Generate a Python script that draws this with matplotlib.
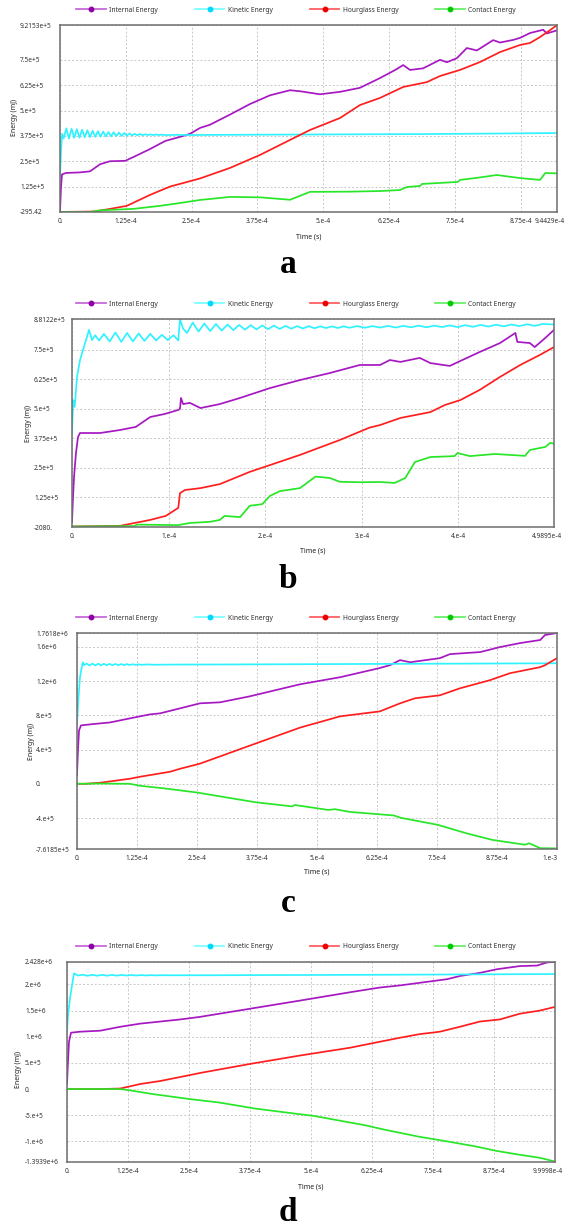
import numpy as np
import matplotlib
matplotlib.use('Agg')
import matplotlib.pyplot as plt
import matplotlib.transforms as mtransforms
from matplotlib.lines import Line2D

plt.rcParams['font.family'] = ['Noto Sans', 'DejaVu Sans']

# legend names and colours
series_names = ['Internal Energy', 'Kinetic Energy', 'Hourglass Energy', 'Contact Energy']
line_colors = ['#A618C2', '#30F2FF', '#FF1E1E', '#28E628']
legend_line_colors = ['#C868D8', '#78FFFF', '#FF6060', '#68F068']
legend_marker_colors = ['#9000A8', '#00D8FF', '#EE0000', '#00CC00']

# ---------------- panel a : (time s, energy mJ) ----------------
a_internal = [(0, 0), (1.9e-6, 120e3), (3.8e-6, 185e3), (1.1e-5, 192e3), (3.8e-5, 195e3),
              (5.7e-5, 200e3), (7.6e-5, 235e3), (9.5e-5, 250e3), (1.24e-4, 252e3), (1.43e-4, 275e3),
              (1.71e-4, 310e3), (2.0e-4, 350e3), (2.28e-4, 370e3), (2.47e-4, 385e3), (2.66e-4, 414e3),
              (2.85e-4, 430e3), (3.23e-4, 480e3), (3.61e-4, 532e3), (3.99e-4, 575e3), (4.37e-4, 600e3),
              (4.56e-4, 595e3), (4.94e-4, 580e3), (5.32e-4, 592e3), (5.7e-4, 612e3), (6.08e-4, 660e3),
              (6.37e-4, 700e3), (6.52e-4, 724e3), (6.65e-4, 700e3), (6.9e-4, 708e3), (7.22e-4, 750e3),
              (7.35e-4, 738e3), (7.54e-4, 758e3), (7.73e-4, 808e3), (7.92e-4, 796e3), (8.23e-4, 847e3),
              (8.36e-4, 835e3), (8.61e-4, 848e3), (8.74e-4, 858e3), (8.93e-4, 882e3), (9.18e-4, 898e3),
              (9.25e-4, 880e3), (9.4429e-4, 895e3)]
a_kinetic = [(0, 172e3), (2e-6, 300e3), (4e-6, 385e3), (7e-6, 362e3), (1.2e-5, 412e3),
             (1.7e-5, 362e3), (2.2e-5, 410e3), (2.7e-5, 365e3), (3.2e-5, 408e3), (3.7e-5, 366e3),
             (4.2e-5, 405e3), (4.7e-5, 368e3), (5.2e-5, 403e3), (5.7e-5, 369e3), (6.2e-5, 400e3),
             (6.7e-5, 370e3), (7.2e-5, 398e3), (7.7e-5, 371e3), (8.2e-5, 396e3), (8.7e-5, 372e3),
             (9.2e-5, 394e3), (9.7e-5, 373e3), (1.02e-4, 393e3), (1.07e-4, 374e3), (1.12e-4, 391e3),
             (1.17e-4, 375e3), (1.22e-4, 389e3), (1.27e-4, 376e3), (1.32e-4, 387e3), (1.37e-4, 377e3),
             (1.42e-4, 385e3), (1.47e-4, 378e3), (1.52e-4, 384e3), (1.57e-4, 378e3), (1.62e-4, 383e3),
             (1.67e-4, 379e3), (1.72e-4, 382e3), (1.77e-4, 379e3), (1.82e-4, 382e3), (1.87e-4, 379e3),
             (1.92e-4, 381e3), (2.0e-4, 379e3), (2.2e-4, 380e3), (2.5e-4, 379e3), (3.0e-4, 380e3),
             (4.0e-4, 381e3), (5.0e-4, 382e3), (6.0e-4, 383e3), (7.0e-4, 384e3), (8.0e-4, 386e3),
             (9.0e-4, 388e3), (9.4429e-4, 389e3)]
a_hourglass = [(0, 0), (6.5e-5, 2e3), (9.5e-5, 15e3), (1.27e-4, 30e3), (1.71e-4, 84e3),
               (2.09e-4, 125e3), (2.66e-4, 165e3), (3.23e-4, 217e3), (3.8e-4, 281e3), (4.37e-4, 355e3),
               (4.75e-4, 404e3), (5.32e-4, 463e3), (5.7e-4, 527e3), (6.08e-4, 562e3), (6.52e-4, 616e3),
               (6.97e-4, 640e3), (7.22e-4, 670e3), (7.6e-4, 700e3), (7.98e-4, 739e3), (8.36e-4, 788e3),
               (8.74e-4, 823e3), (8.93e-4, 833e3), (9.12e-4, 862e3), (9.31e-4, 896e3), (9.4429e-4, 921e3)]
a_contact = [(0, 0), (5.7e-5, 0), (7.6e-5, 8e3), (1.39e-4, 15e3), (1.9e-4, 30e3),
             (2.28e-4, 44e3), (2.66e-4, 59e3), (3.23e-4, 74e3), (3.8e-4, 72e3), (4.37e-4, 60e3),
             (4.75e-4, 99e3), (5.51e-4, 100e3), (6.08e-4, 103e3), (6.46e-4, 108e3), (6.59e-4, 123e3),
             (6.84e-4, 128e3), (6.88e-4, 138e3), (7.22e-4, 143e3), (7.56e-4, 148e3), (7.6e-4, 158e3),
             (7.89e-4, 167e3), (8.3e-4, 182e3), (8.74e-4, 167e3), (9.12e-4, 158e3), (9.22e-4, 192e3),
             (9.4429e-4, 190e3)]

# ---------------- panel b ----------------
b_internal = [(0, 20e3), (1.0e-6, 120e3), (2.1e-6, 210e3), (4.1e-6, 312e3), (6.2e-6, 380e3),
              (8.3e-6, 397e3), (2.9e-5, 397e3), (5.0e-5, 410e3), (6.6e-5, 423e3), (8.1e-5, 465e3),
              (9.6e-5, 478e3), (1.10e-4, 495e3), (1.118e-4, 500e3), (1.128e-4, 546e3), (1.15e-4, 520e3),
              (1.22e-4, 525e3), (1.33e-4, 503e3), (1.53e-4, 520e3), (1.74e-4, 546e3), (2.05e-4, 588e3),
              (2.36e-4, 622e3), (2.67e-4, 652e3), (2.98e-4, 686e3), (3.19e-4, 686e3), (3.29e-4, 707e3),
              (3.40e-4, 699e3), (3.60e-4, 716e3), (3.71e-4, 694e3), (3.91e-4, 682e3), (4.02e-4, 703e3),
              (4.22e-4, 741e3), (4.43e-4, 779e3), (4.59e-4, 822e3), (4.61e-4, 784e3), (4.74e-4, 779e3),
              (4.79e-4, 762e3), (4.90e-4, 801e3), (4.9895e-4, 835e3)]
b_kinetic = [(0, 393e3), (0.5e-6, 450e3), (1.3e-6, 537e3), (2.8e-6, 508e3), (5.2e-6, 635e3),
             (8.3e-6, 707e3), (1.14e-5, 750e3), (1.55e-5, 805e3), (1.76e-5, 835e3), (2.07e-5, 792e3),
             (2.4e-5, 812e3), (2.8e-5, 790e3), (3.3e-5, 818e3), (3.9e-5, 786e3), (4.5e-5, 824e3),
             (5.1e-5, 784e3), (5.7e-5, 822e3), (6.3e-5, 786e3), (6.9e-5, 820e3), (7.5e-5, 788e3),
             (8.1e-5, 818e3), (8.7e-5, 790e3), (9.3e-5, 814e3), (9.9e-5, 792e3), (1.05e-4, 812e3),
             (1.1e-4, 790e3), (1.118e-4, 881e3), (1.15e-4, 840e3), (1.19e-4, 822e3), (1.25e-4, 866e3),
             (1.31e-4, 828e3), (1.37e-4, 862e3), (1.43e-4, 830e3), (1.49e-4, 860e3), (1.55e-4, 832e3),
             (1.61e-4, 858e3), (1.67e-4, 834e3), (1.73e-4, 856e3), (1.79e-4, 836e3), (1.85e-4, 855e3),
             (1.91e-4, 837e3), (1.97e-4, 854e3), (2.03e-4, 838e3), (2.09e-4, 853e3), (2.15e-4, 839e3),
             (2.21e-4, 852e3), (2.27e-4, 840e3), (2.33e-4, 851e3), (2.39e-4, 841e3), (2.45e-4, 851e3),
             (2.51e-4, 842e3), (2.57e-4, 850e3), (2.63e-4, 843e3), (2.69e-4, 850e3), (2.75e-4, 843e3),
             (2.81e-4, 850e3), (2.87e-4, 844e3), (2.95e-4, 851e3), (3.03e-4, 844e3), (3.11e-4, 851e3),
             (3.19e-4, 845e3), (3.27e-4, 852e3), (3.35e-4, 845e3), (3.43e-4, 852e3), (3.51e-4, 846e3),
             (3.59e-4, 853e3), (3.67e-4, 846e3), (3.75e-4, 853e3), (3.83e-4, 847e3), (3.91e-4, 854e3),
             (3.99e-4, 847e3), (4.07e-4, 855e3), (4.15e-4, 848e3), (4.23e-4, 856e3), (4.31e-4, 849e3),
             (4.39e-4, 857e3), (4.47e-4, 850e3), (4.55e-4, 858e3), (4.63e-4, 851e3), (4.71e-4, 859e3),
             (4.79e-4, 852e3), (4.87e-4, 860e3), (4.9895e-4, 858e3)]
b_hourglass = [(0, 0), (5.0e-5, 3e3), (8.1e-5, 28e3), (9.7e-5, 45e3), (1.10e-4, 79e3),
               (1.118e-4, 142e3), (1.17e-4, 155e3), (1.33e-4, 163e3), (1.53e-4, 180e3), (1.84e-4, 232e3),
               (2.36e-4, 304e3), (2.77e-4, 367e3), (3.08e-4, 420e3), (3.19e-4, 431e3), (3.40e-4, 461e3),
               (3.71e-4, 486e3), (3.86e-4, 516e3), (4.02e-4, 537e3), (4.22e-4, 580e3), (4.43e-4, 635e3),
               (4.64e-4, 686e3), (4.84e-4, 728e3), (4.9895e-4, 762e3)]
b_contact = [(0, 0), (6.5e-5, 2e3), (6.7e-5, 8e3), (1.10e-4, 6e3), (1.22e-4, 15e3),
             (1.43e-4, 20e3), (1.53e-4, 28e3), (1.58e-4, 45e3), (1.74e-4, 40e3), (1.84e-4, 88e3),
             (1.97e-4, 95e3), (2.05e-4, 130e3), (2.15e-4, 150e3), (2.36e-4, 163e3), (2.52e-4, 212e3),
             (2.67e-4, 206e3), (2.77e-4, 190e3), (2.98e-4, 188e3), (3.19e-4, 189e3), (3.34e-4, 185e3),
             (3.45e-4, 206e3), (3.55e-4, 274e3), (3.71e-4, 295e3), (3.96e-4, 299e3), (3.99e-4, 312e3),
             (4.12e-4, 299e3), (4.38e-4, 308e3), (4.69e-4, 300e3), (4.74e-4, 325e3), (4.90e-4, 338e3),
             (4.95e-4, 355e3), (4.9895e-4, 352e3)]

# ---------------- panel c ----------------
c_internal = [(0, 100e3), (2e-6, 388e3), (4.2e-6, 623e3), (8.3e-6, 682e3), (2.7e-5, 694e3),
              (6.9e-5, 717e3), (9.0e-5, 741e3), (1.1e-4, 764e3), (1.31e-4, 788e3), (1.52e-4, 811e3),
              (1.73e-4, 823e3), (2.15e-4, 882e3), (2.56e-4, 940e3), (2.98e-4, 952e3), (3.6e-4, 1.022e6),
              (4.65e-4, 1.163e6), (5.48e-4, 1.245e6), (6.29e-4, 1.35e6), (6.52e-4, 1.386e6),
              (6.73e-4, 1.445e6), (6.94e-4, 1.42e6), (7.56e-4, 1.468e6), (7.77e-4, 1.515e6),
              (8.4e-4, 1.539e6), (8.81e-4, 1.597e6), (9.23e-4, 1.644e6), (9.65e-4, 1.68e6),
              (9.75e-4, 1.738e6), (1e-3, 1.762e6)]
c_kinetic = [(0, 705e3), (2e-6, 900e3), (4.2e-6, 1.093e6), (6.2e-6, 1.245e6), (1.04e-5, 1.38e6),
             (1.25e-5, 1.42e6), (1.46e-5, 1.386e6), (2.0e-5, 1.405e6), (2.6e-5, 1.382e6), (3.2e-5, 1.404e6),
             (3.8e-5, 1.383e6), (4.4e-5, 1.403e6), (5.0e-5, 1.384e6), (5.6e-5, 1.402e6), (6.2e-5, 1.385e6),
             (6.8e-5, 1.401e6), (7.4e-5, 1.386e6), (8.0e-5, 1.400e6), (8.6e-5, 1.386e6), (9.2e-5, 1.399e6),
             (9.8e-5, 1.387e6), (1.04e-4, 1.398e6), (1.10e-4, 1.388e6), (1.16e-4, 1.397e6),
             (1.22e-4, 1.389e6), (1.28e-4, 1.396e6), (1.34e-4, 1.390e6), (1.45e-4, 1.394e6),
             (1.6e-4, 1.391e6), (2.0e-4, 1.393e6), (3.0e-4, 1.394e6), (4.0e-4, 1.396e6),
             (5.0e-4, 1.398e6), (6.0e-4, 1.400e6), (7.0e-4, 1.402e6), (8.0e-4, 1.404e6),
             (9.0e-4, 1.406e6), (1e-3, 1.408e6)]
c_hourglass = [(0, 0), (1.7e-5, 0), (4.8e-5, 12e3), (1.1e-4, 59e3), (1.31e-4, 82e3),
               (1.94e-4, 141e3), (2.15e-4, 176e3), (2.56e-4, 235e3), (3.6e-4, 446e3), (4.65e-4, 657e3),
               (5.48e-4, 788e3), (6.31e-4, 846e3), (6.73e-4, 940e3), (7.04e-4, 999e3), (7.56e-4, 1.034e6),
               (7.98e-4, 1.116e6), (8.6e-4, 1.21e6), (9.02e-4, 1.292e6), (9.65e-4, 1.363e6),
               (9.75e-4, 1.386e6), (1e-3, 1.468e6)]
c_contact = [(0, 0), (4.8e-5, 3e3), (1.1e-4, 0), (1.31e-4, -23e3), (1.81e-4, -53e3),
             (2.5e-4, -102e3), (3.71e-4, -215e3), (4.48e-4, -264e3), (4.54e-4, -248e3), (5.23e-4, -305e3),
             (5.38e-4, -297e3), (5.69e-4, -329e3), (6.6e-4, -370e3), (6.75e-4, -398e3), (7.52e-4, -480e3),
             (8.13e-4, -581e3), (8.65e-4, -655e3), (9.33e-4, -712e3), (9.42e-4, -695e3), (9.65e-4, -752e3),
             (1e-3, -755e3)]

# ---------------- panel d ----------------
d_internal = [(0, 96e3), (2e-6, 519e3), (4.1e-6, 904e3), (8.2e-6, 1.077e6), (2.66e-5, 1.096e6),
              (6.8e-5, 1.115e6), (1.09e-4, 1.19e6), (1.5e-4, 1.25e6), (1.91e-4, 1.29e6), (2.32e-4, 1.33e6),
              (2.73e-4, 1.38e6), (3.75e-4, 1.535e6), (4.77e-4, 1.69e6), (5.8e-4, 1.85e6), (6.41e-4, 1.94e6),
              (6.82e-4, 1.98e6), (7.79e-4, 2.1e6), (8.05e-4, 2.16e6), (8.46e-4, 2.22e6), (8.81e-4, 2.29e6),
              (9.28e-4, 2.35e6), (9.63e-4, 2.36e6), (9.84e-4, 2.42e6), (9.9998e-4, 2.43e6)]
d_kinetic = [(0, 1.096e6), (2e-6, 1.40e6), (6.1e-6, 1.73e6), (1.02e-5, 1.98e6), (1.43e-5, 2.21e6),
             (1.64e-5, 2.20e6), (2.25e-5, 2.17e6), (3.2e-5, 2.185e6), (4.2e-5, 2.165e6), (5.2e-5, 2.183e6),
             (6.2e-5, 2.166e6), (7.2e-5, 2.182e6), (8.2e-5, 2.167e6), (9.2e-5, 2.181e6), (1.02e-4, 2.168e6),
             (1.12e-4, 2.18e6), (1.22e-4, 2.169e6), (1.32e-4, 2.179e6), (1.42e-4, 2.17e6), (1.52e-4, 2.178e6),
             (1.62e-4, 2.171e6), (1.72e-4, 2.177e6), (1.82e-4, 2.172e6), (1.92e-4, 2.176e6), (2.1e-4, 2.174e6),
             (3.0e-4, 2.175e6), (4.0e-4, 2.178e6), (5.0e-4, 2.18e6), (6.0e-4, 2.183e6), (7.0e-4, 2.186e6),
             (8.0e-4, 2.19e6), (9.0e-4, 2.194e6), (9.9998e-4, 2.198e6)]
d_hourglass = [(0, 0), (6.8e-5, 0), (1.09e-4, 10e3), (1.5e-4, 96e3), (1.91e-4, 154e3),
               (2.32e-4, 230e3), (2.73e-4, 308e3), (3.75e-4, 480e3), (4.77e-4, 640e3), (5.8e-4, 790e3),
               (6.41e-4, 904e3), (6.82e-4, 980e3), (7.23e-4, 1.05e6), (7.64e-4, 1.096e6), (8.05e-4, 1.19e6),
               (8.46e-4, 1.29e6), (8.87e-4, 1.33e6), (9.28e-4, 1.44e6), (9.69e-4, 1.5e6), (9.9998e-4, 1.57e6)]
d_contact = [(0, 0), (1.09e-4, 0), (1.25e-4, -19e3), (1.76e-4, -96e3), (2.52e-4, -192e3),
             (3.11e-4, -256e3), (3.85e-4, -372e3), (4.61e-4, -462e3), (5.06e-4, -513e3), (5.51e-4, -590e3),
             (6.11e-4, -692e3), (6.47e-4, -769e3), (7.21e-4, -910e3), (7.75e-4, -994e3), (8.34e-4, -1.09e6),
             (8.79e-4, -1.18e6), (9.24e-4, -1.25e6), (9.69e-4, -1.314e6), (9.9998e-4, -1.385e6)]

# axis ticks and labels
a_xticks = [0, 1.25e-4, 2.5e-4, 3.75e-4, 5e-4, 6.25e-4, 7.5e-4, 8.75e-4, 9.4429e-4]
a_xlabels = ['0.', '1.25e-4', '2.5e-4', '3.75e-4', '5.e-4', '6.25e-4', '7.5e-4', '8.75e-4', '9.4429e-4']
a_yticks = [-295.42, 1.25e5, 2.5e5, 3.75e5, 5e5, 6.25e5, 7.5e5, 9.2153e5]
a_ylabels = ['-295.42', '1.25e+5', '2.5e+5', '3.75e+5', '5.e+5', '6.25e+5', '7.5e+5', '9.2153e+5']

b_xticks = [0, 1e-4, 2e-4, 3e-4, 4e-4, 4.9895e-4]
b_xlabels = ['0.', '1.e-4', '2.e-4', '3.e-4', '4.e-4', '4.9895e-4']
b_yticks = [-2080, 1.25e5, 2.5e5, 3.75e5, 5e5, 6.25e5, 7.5e5, 8.8122e5]
b_ylabels = ['-2080.', '1.25e+5', '2.5e+5', '3.75e+5', '5.e+5', '6.25e+5', '7.5e+5', '8.8122e+5']

c_xticks = [0, 1.25e-4, 2.5e-4, 3.75e-4, 5e-4, 6.25e-4, 7.5e-4, 8.75e-4, 1e-3]
c_xlabels = ['0.', '1.25e-4', '2.5e-4', '3.75e-4', '5.e-4', '6.25e-4', '7.5e-4', '8.75e-4', '1.e-3']
c_yticks = [-7.6185e5, -4e5, 0, 4e5, 8e5, 1.2e6, 1.6e6, 1.7618e6]
c_ylabels = ['-7.6185e+5', '-4.e+5', '0.', '4.e+5', '8.e+5', '1.2e+6', '1.6e+6', '1.7618e+6']

d_xticks = [0, 1.25e-4, 2.5e-4, 3.75e-4, 5e-4, 6.25e-4, 7.5e-4, 8.75e-4, 9.9998e-4]
d_xlabels = ['0.', '1.25e-4', '2.5e-4', '3.75e-4', '5.e-4', '6.25e-4', '7.5e-4', '8.75e-4', '9.9998e-4']
d_yticks = [-1.3939e6, -1e6, -5e5, 0, 5e5, 1e6, 1.5e6, 2e6, 2.428e6]
d_ylabels = ['-1.3939e+6', '-1.e+6', '-5.e+5', '0.', '5.e+5', '1.e+6', '1.5e+6', '2.e+6', '2.428e+6']

W, H = 569, 1227


def fbox(l, t, r, b):
    # pixel box -> figure fraction rect
    return [l / W, 1 - b / H, (r - l) / W, (b - t) / H]


def draw_panel(ax, series, xticks, xlabels, yticks, ylabels, ylab_x, ylab_y, box, leg_y, ypad_px, letter, letter_y, xlab_y):
    l, t, r, b = box
    for pts, col in zip(series, line_colors):
        arr = np.array(pts)
        ax.plot(arr[:, 0], arr[:, 1], color=col, lw=1.25, solid_joinstyle='round')
    ax.set_xlim(xticks[0], xticks[-1])
    ax.set_ylim(yticks[0], yticks[-1])
    ax.set_xticks(xticks)
    ax.set_xticklabels(xlabels)
    ax.set_yticks(yticks)
    ax.set_yticklabels(ylabels)
    ax.grid(True, color='#C8C8C8', lw=0.7, ls=(0, (2, 2)))
    ax.tick_params(length=0, labelsize=4.7, colors='#303030')
    ax.tick_params(axis='x', pad=4)
    ax.tick_params(axis='y', pad=ypad_px * 0.72)
    for lab in ax.get_yticklabels():
        lab.set_horizontalalignment('left')
    # keep the last time label inside the figure edge
    last = ax.get_xticklabels()[-1]
    shift = mtransforms.ScaledTranslation(-7 / 100, 0, fig.dpi_scale_trans)
    last.set_transform(last.get_transform() + shift)
    for sp in ax.spines.values():
        sp.set_color('#6E6E6E')
        sp.set_linewidth(1.1)
    fig.text(ylab_x / W, 1 - ylab_y / H, 'Energy (mJ)', rotation=90, fontsize=5,
             fontweight='bold', ha='center', va='center', color='#202020')
    fig.text((l + r) / 2 / W, 1 - xlab_y / H, 'Time (s)', fontsize=5,
             fontweight='bold', ha='center', va='center', color='#202020')
    handles = [Line2D([], [], color=lc, lw=1.3, marker='o', markersize=3.2,
                      markerfacecolor=mc, markeredgecolor=mc)
               for lc, mc in zip(legend_line_colors, legend_marker_colors)]
    fig.legend(handles, series_names, loc='center', bbox_to_anchor=(296 / W, 1 - leg_y / H),
               ncol=4, frameon=False, fontsize=4.8, handlelength=4.4, handletextpad=0.5,
               columnspacing=5.6, numpoints=1, labelcolor='#303030')
    fig.text(288 / W, 1 - letter_y / H, letter, fontsize=24, fontweight='bold',
             family='Liberation Serif', ha='center', va='baseline')


fig = plt.figure(figsize=(W / 100, H / 100), dpi=100)

panels = [
    ([a_internal, a_kinetic, a_hourglass, a_contact], a_xticks, a_xlabels, a_yticks, a_ylabels,
     15, 118, (60, 25, 557, 212), 10, 40, 'a', 273, 237),
    ([b_internal, b_kinetic, b_hourglass, b_contact], b_xticks, b_xlabels, b_yticks, b_ylabels,
     29, 423, (72, 319, 554, 527), 304, 38, 'b', 588, 551),
    ([c_internal, c_kinetic, c_hourglass, c_contact], c_xticks, c_xlabels, c_yticks, c_ylabels,
     32, 741, (77, 633, 557, 849), 618, 41, 'c', 912, 872),
    ([d_internal, d_kinetic, d_hourglass, d_contact], d_xticks, d_xlabels, d_yticks, d_ylabels,
     19, 1070, (67, 962, 555, 1162), 947, 42, 'd', 1221, 1187),
]

for p in panels:
    box = p[7]
    ax = fig.add_axes(fbox(*box))
    draw_panel(ax, p[0], p[1], p[2], p[3], p[4], p[5], p[6], box, p[8], p[9], p[10], p[11], p[12])

fig.savefig('out.png', dpi=100)
